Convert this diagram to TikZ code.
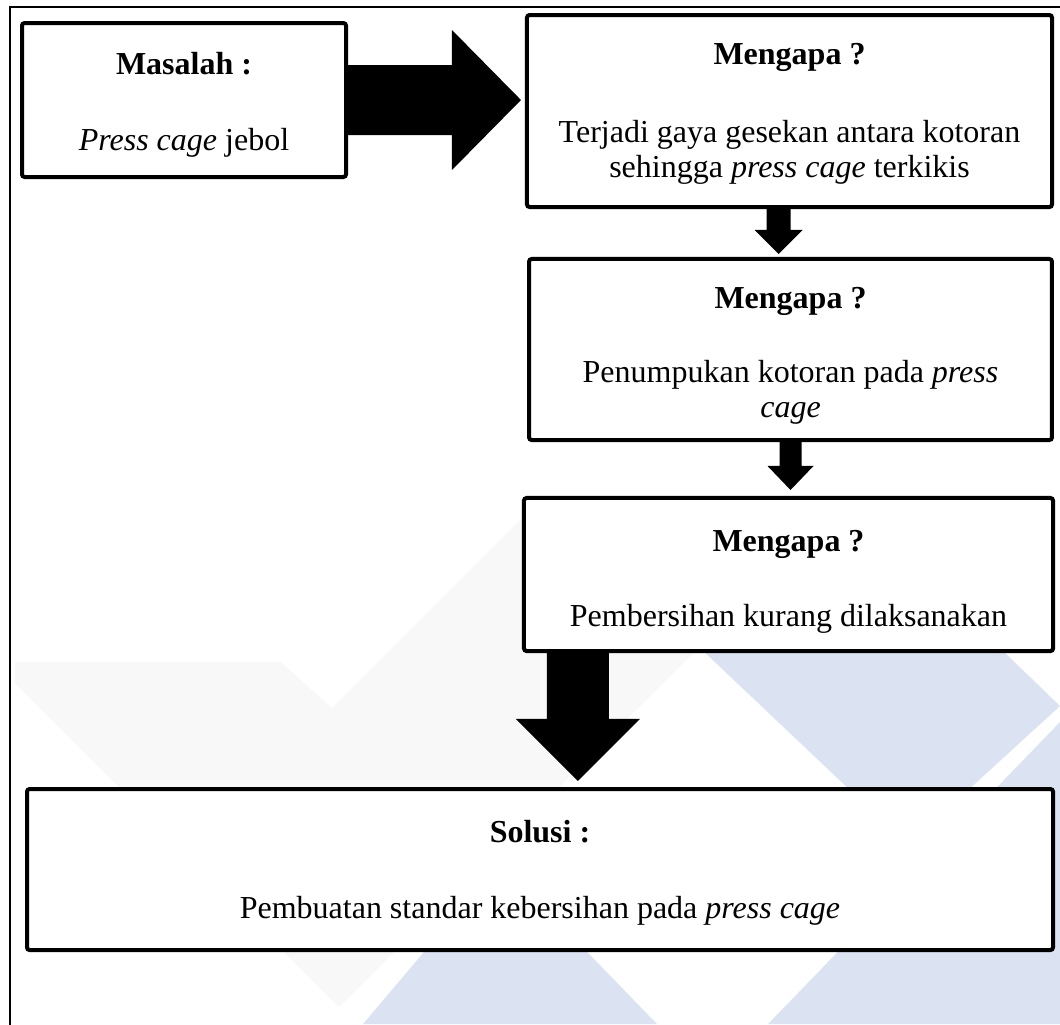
\documentclass[tikz,border=0pt]{standalone}
\usepackage{fontspec}
\setmainfont{Liberation Serif}
\usetikzlibrary{calc}
\definecolor{wmBlue}{RGB}{219,227,242}
\definecolor{wmGray}{RGB}{248,248,248}
\tikzset{
  kotakTeks/.style={
    draw=black,
    line width=1.5pt,
    rounded corners=1pt,
    fill=white,
    align=center,
    inner sep=0pt,
    font=\fontsize{12}{13.2}\selectfont
  },
  blokPanah/.style={
    fill=black
  }
}

\begin{document}
\begin{tikzpicture}[x=0.375pt, y=-0.375pt]
  \useasboundingbox (0,0) rectangle (1060,1024);
  \clip (0,0) rectangle (1060,1024);
  % Watermark
  \fill[wmGray] (15,662) -- (281,662) -- (332,708) -- (537,503) -- (843,503) -- (339,1007) -- (15,683) -- cycle;
  \fill[wmBlue] (363,1024) -- (500,862) -- (657,1024) -- cycle;
  \fill[wmBlue] (700,648) -- (1000,648) -- (1060,706) -- (908,845) -- cycle;
  \fill[wmBlue] (1060,722) -- (1060,1024) -- (768,1024) -- cycle;
  % Frame
  \draw[line width=0.75pt] (10,1030) -- (10,7) -- (1070,7);

  % Boxes
  \node[kotakTeks, minimum width=121.5pt, minimum height=57.75pt] (masalah) at (184,100)
    {\rule{0pt}{12pt}\textbf{Masalah :}\\[15.5pt]\textit{Press cage} jebol};
  \node[kotakTeks, minimum width=196.9pt, minimum height=72pt] (mengapaA) at (789.5,111)
    {\rule{0pt}{10pt}\textbf{Mengapa ?}\\[16pt]Terjadi gaya gesekan antara kotoran\\sehingga \textit{press cage} terkikis};
  \node[kotakTeks, minimum width=196.1pt, minimum height=67.9pt] (mengapaB) at (790.5,349.5)
    {\rule{0pt}{12.7pt}\textbf{Mengapa ?}\\[14.3pt]Penumpukan kotoran pada \textit{press}\\\textit{cage}};
  \node[kotakTeks, minimum width=198.4pt, minimum height=57.4pt] (mengapaC) at (788.5,574.5)
    {\rule{0pt}{13.5pt}\textbf{Mengapa ?}\\[14.7pt]Pembersihan kurang dilaksanakan};
  \node[kotakTeks, minimum width=384.75pt, minimum height=60.4pt] (solusi) at (540,869.5)
    {\rule{0pt}{10.8pt}\textbf{Solusi :}\\[15pt]Pembuatan standar kebersihan pada \textit{press cage}};

  % Block arrows
  \coordinate (tA) at ($(mengapaA.west |- masalah.east)+(-4,0)$);
  \fill[blokPanah] ($(masalah.east)+(0,-35)$) -- ($(tA)+(-69,-35)$) -- ($(tA)+(-69,-70)$) -- (tA)
    -- ($(tA)+(-69,70)$) -- ($(tA)+(-69,35)$) -- ($(masalah.east)+(0,35)$) -- cycle;

  \coordinate (sB) at ($(mengapaA.south)+(-11,0)$);
  \coordinate (tB) at ($(sB |- mengapaB.north)+(0,-3)$);
  \fill[blokPanah] ($(sB)+(-12,0)$) -- ($(tB)+(-12,-24)$) -- ($(tB)+(-24,-24)$) -- (tB)
    -- ($(tB)+(24,-24)$) -- ($(tB)+(12,-24)$) -- ($(sB)+(12,0)$) -- cycle;

  \coordinate (sC) at (mengapaB.south);
  \coordinate (tC) at ($(sC |- mengapaC.north)+(0,-6)$);
  \fill[blokPanah] ($(sC)+(-11,0)$) -- ($(tC)+(-11,-24)$) -- ($(tC)+(-23,-24)$) -- (tC)
    -- ($(tC)+(23,-24)$) -- ($(tC)+(11,-24)$) -- ($(sC)+(11,0)$) -- cycle;

  \coordinate (sD) at ($(mengapaC.south west)+(56,0)$);
  \coordinate (tD) at ($(sD |- solusi.north)+(0,-6)$);
  \fill[blokPanah] ($(sD)+(-31,0)$) -- ($(tD)+(-31,-62)$) -- ($(tD)+(-62,-62)$) -- (tD)
    -- ($(tD)+(62,-62)$) -- ($(tD)+(31,-62)$) -- ($(sD)+(31,0)$) -- cycle;
\end{tikzpicture}
\end{document}
